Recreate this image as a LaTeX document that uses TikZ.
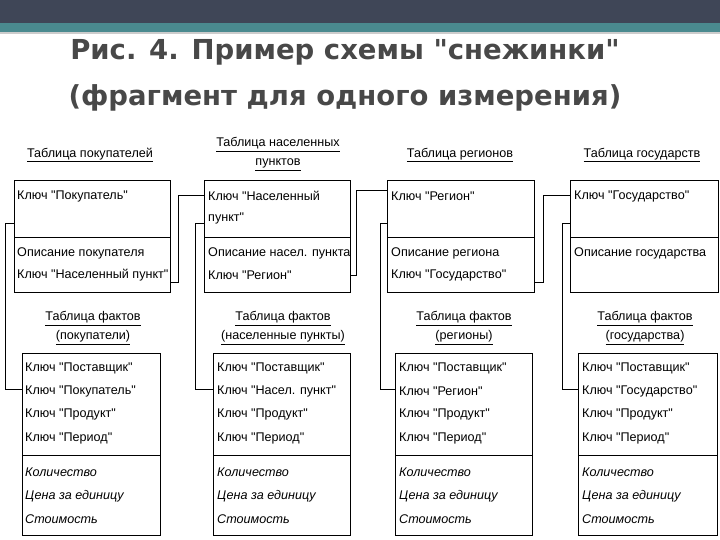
\documentclass[tikz,border=0pt]{standalone}
\usepackage{fontspec}
\newfontfamily\tabfont{Liberation Sans}
\newfontfamily\titlefont{DejaVu Sans}
\definecolor{barDark}{HTML}{3F4657}
\definecolor{barTeal}{HTML}{4A8A8F}
\definecolor{titleGray}{HTML}{484848}
\begin{document}
\begin{tikzpicture}[x=1pt,y=-1pt,
  tx/.style={anchor=west,inner sep=0pt,font=\tabfont\fontsize{12.6}{14}\selectfont},
  ti/.style={anchor=west,inner sep=0pt,font=\tabfont\fontsize{12.6}{14}\selectfont\itshape},
  hd/.style={anchor=center,inner sep=0pt,align=center,font=\tabfont\fontsize{12.6}{19}\selectfont},
  box/.style={draw,line width=1pt},
  ln/.style={line width=1pt}]
\useasboundingbox (0,0) rectangle (720,540);
\fill[barDark] (0,0) rectangle (720,23);
\fill[barTeal] (0,23) rectangle (720,32);
\fill[gray!40] (0,32) rectangle (720,34);
\node[font=\titlefont\bfseries\fontsize{27.5}{30}\selectfont,text=titleGray] (t1) at (345,52) {Рис. 4. Пример схемы "снежинки"};
\node[font=\titlefont\bfseries\fontsize{27.5}{30}\selectfont,text=titleGray] (t2) at (345,98) {(фрагмент для одного измерения)};

% top tables
\foreach \n/\xa/\xb in {A/14/170,B/204/350,C/387/534,D/570/718}{
  \node[box,minimum width=\xb-\xa,minimum height=112,inner sep=0pt,anchor=north west] (\n) at (\xa,180) {};
  \draw[ln] (\xa,237) -- (\xb,237);
}
\node[hd] (hA) at (90,155) {\underline{Таблица покупателей}};
\node[hd] (hB) at (278,154) {\underline{Таблица населенных}\\\underline{пунктов}};
\node[hd] (hC) at (460,155) {\underline{Таблица регионов}};
\node[hd] (hD) at (642,155) {\underline{Таблица государств}};

\node[tx] (a1) at (17,196) {Ключ "Покупатель"};
\node[tx] (a2) at (17,253) {Описание покупателя};
\node[tx] (a3) at (17,275) {Ключ "Населенный пункт"};
\node[tx] (b1) at (208,196) {Ключ "Населенный};
\node[tx] (b1b) at (208,218) {пункт"};
\node[tx] (b2) at (208,253) {Описание насел. пункта};
\node[tx] (b3) at (208,275) {Ключ "Регион"};
\node[tx] (c1) at (391,196) {Ключ "Регион"};
\node[tx] (c2) at (391,253) {Описание региона};
\node[tx] (c3) at (391,275) {Ключ "Государство"};
\node[tx] (d1) at (574,196) {Ключ "Государство"};
\node[tx] (d2) at (574,253) {Описание государства};

% fact tables
\foreach \n/\xa/\xb in {E/22/160,F/213/350,G/395/532,H/578/717}{
  \node[box,minimum width=\xb-\xa,minimum height=182,inner sep=0pt,anchor=north west] (\n) at (\xa,353) {};
  \draw[ln] (\xa,455) -- (\xb,455);
}
\foreach \n/\x/\s in {E/93/покупатели,F/283/населенные пункты,G/464/регионы,H/645/государства}{
  \node[hd] (h\n) at (\x,328) {\underline{Таблица фактов}\\\underline{(\s)}};
}
\foreach \n/\xa/\k in {E/25/Покупатель,F/217/Насел. пункт,G/399/Регион,H/582/Государство}{
  \node[tx] (\n1) at (\xa,368) {Ключ "Поставщик"};
  \node[tx] (\n2) at (\xa,391) {Ключ "\k"};
  \node[tx] (\n3) at (\xa,414) {Ключ "Продукт"};
  \node[tx] (\n4) at (\xa,438) {Ключ "Период"};
  \node[ti] (\n5) at (\xa,472) {Количество};
  \node[ti] (\n6) at (\xa,496) {Цена за единицу};
  \node[ti] (\n7) at (\xa,519) {Стоимость};
}

% connectors between dimension tables
\draw[ln] (170,282) -- (178,282) -- (178,196) -- (B.west |- 0,196);
\draw[ln] (350,275) -- (356,275) -- (356,191) -- (C.west |- 0,191);
\draw[ln] (534,282) -- (543,282) -- (543,196) -- (D.west |- 0,196);
% connectors to fact tables
\draw[ln] (A.west |- 0,224) -- (5,224) -- (5,389) -- (E.west |- 0,389);
\draw[ln] (B.west |- 0,224) -- (195,224) -- (195,389) -- (F.west |- 0,389);
\draw[ln] (C.west |- 0,224) -- (380,224) -- (380,389) -- (G.west |- 0,389);
\draw[ln] (D.west |- 0,224) -- (562,224) -- (562,389) -- (H.west |- 0,389);
\end{tikzpicture}
\end{document}
